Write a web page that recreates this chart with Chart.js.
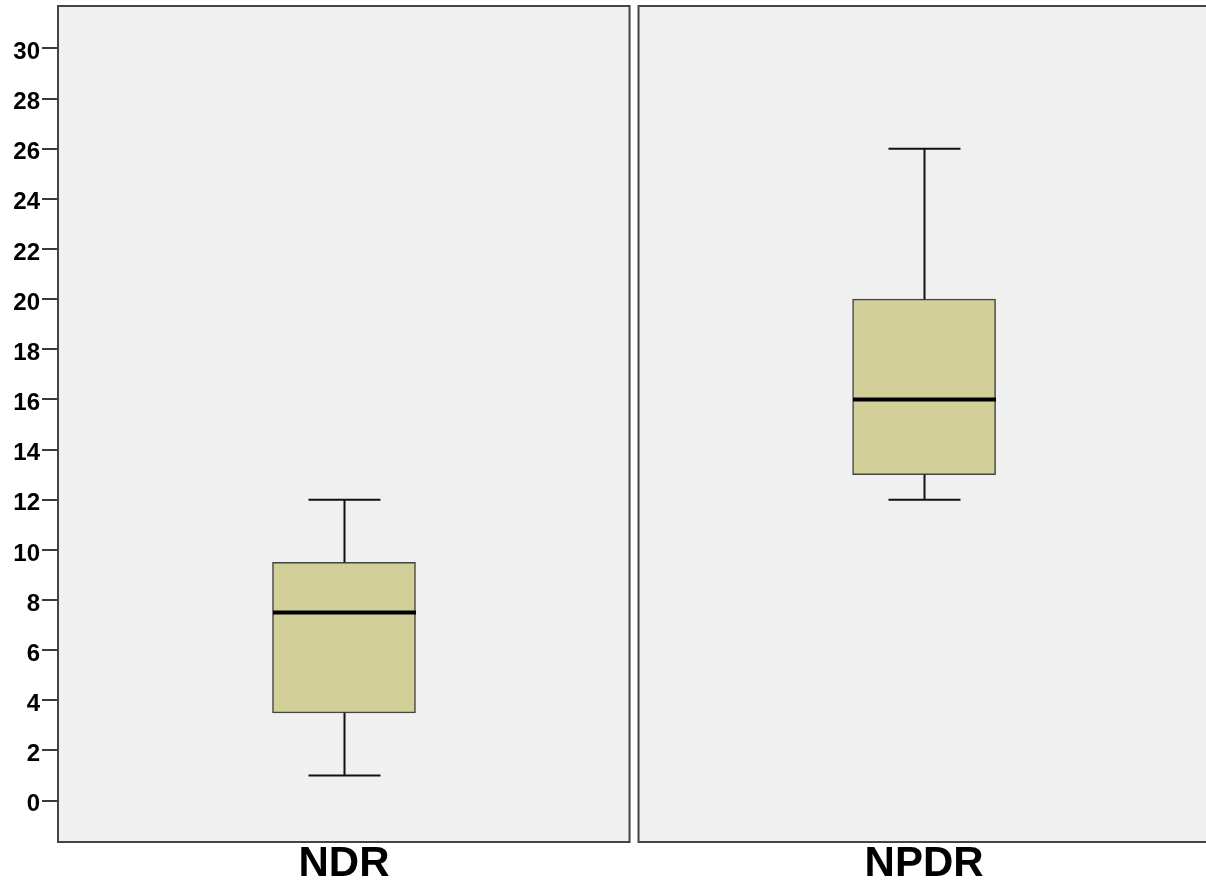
<!DOCTYPE html>
<html>
<head>
<meta charset="utf-8">
<script src="https://cdn.jsdelivr.net/npm/chart.js@4.4.1/dist/chart.umd.min.js"></script>
<style>
  html, body { margin: 0; padding: 0; background: #ffffff; overflow: hidden; }
  #wrap { width: 1206px; height: 883px; position: relative; }
</style>
</head>
<body>
<div id="wrap"><canvas id="c" width="1206" height="883"></canvas></div>
<script>
// Five-number summaries per group
const groups     = ['NDR', 'NPDR'];
const minVals    = [1, 12];
const q1Vals     = [3.5, 13];
const medianVals = [7.5, 16];
const q3Vals     = [9.5, 20];
const maxVals    = [12, 26];
const yTicks     = [0, 2, 4, 6, 8, 10, 12, 14, 16, 18, 20, 22, 24, 26, 28, 30];

const BOX_WIDTH = 143;
const CAP_HALF = 36;
const PANEL_GAP = 4.5;

// Grey framed panel behind each group
const panelPlugin = {
  id: 'panels',
  beforeDatasetsDraw(chart) {
    const { ctx, chartArea: a, scales: { x } } = chart;
    const mid = x.getPixelForValue(0.5);
    const rects = [[a.left, mid - PANEL_GAP], [mid + PANEL_GAP, a.right + 20]];
    ctx.save();
    ctx.fillStyle = '#f0f0f0';
    ctx.strokeStyle = '#444444';
    ctx.lineWidth = 2;
    rects.forEach(([l, r]) => {
      ctx.fillRect(l, a.top, r - l, a.bottom - a.top);
      ctx.strokeRect(l, a.top, r - l, a.bottom - a.top);
    });
    ctx.restore();
  }
};

// Whiskers, caps and median line on top of the boxes
const whiskerPlugin = {
  id: 'whiskers',
  afterDatasetsDraw(chart) {
    const { ctx, scales: { x, y } } = chart;
    ctx.save();
    groups.forEach((g, i) => {
      const cx = Math.round(x.getPixelForValue(i)) + 0.5;
      const yMin = y.getPixelForValue(minVals[i]);
      const yQ1 = y.getPixelForValue(q1Vals[i]);
      const yMed = y.getPixelForValue(medianVals[i]);
      const yQ3 = y.getPixelForValue(q3Vals[i]);
      const yMax = y.getPixelForValue(maxVals[i]);
      ctx.strokeStyle = '#111111';
      ctx.lineWidth = 2;
      ctx.beginPath();
      ctx.moveTo(cx, yQ3); ctx.lineTo(cx, yMax);
      ctx.moveTo(cx - CAP_HALF, yMax); ctx.lineTo(cx + CAP_HALF, yMax);
      ctx.moveTo(cx, yQ1); ctx.lineTo(cx, yMin);
      ctx.moveTo(cx - CAP_HALF, yMin); ctx.lineTo(cx + CAP_HALF, yMin);
      ctx.stroke();
      ctx.strokeStyle = '#000000';
      ctx.lineWidth = 4;
      ctx.beginPath();
      ctx.moveTo(cx - BOX_WIDTH / 2, yMed); ctx.lineTo(cx + BOX_WIDTH / 2, yMed);
      ctx.stroke();
    });
    ctx.restore();
  }
};

new Chart(document.getElementById('c'), {
  type: 'bar',
  data: {
    datasets: [{
      data: groups.map((g, i) => ({ x: i, y: [q1Vals[i], q3Vals[i]] })),
      backgroundColor: '#d3cf98',
      borderColor: '#444444',
      borderWidth: 1.5,
      borderSkipped: false,
      barThickness: BOX_WIDTH
    }]
  },
  options: {
    responsive: false,
    animation: false,
    devicePixelRatio: 1,
    layout: { padding: { top: 6, left: 0, right: 0, bottom: 0 } },
    plugins: { legend: { display: false }, tooltip: { enabled: false } },
    scales: {
      x: {
        type: 'linear',
        offset: false,
        min: -0.493,
        max: 1.486,
        grid: { display: false, offset: false },
        border: { display: false },
        afterBuildTicks(scale) { scale.ticks = groups.map((g, i) => ({ value: i })); },
        afterFit(scale) {
          scale.height = 41;
          scale.paddingLeft = 0; scale.paddingRight = 0;
        },
        ticks: {
          padding: -4,
          color: '#000000',
          font: { family: "'Liberation Sans', Arial, sans-serif", size: 42, weight: 'bold', lineHeight: 0.9 },
          callback: (v) => groups[v] ?? ''
        }
      },
      y: {
        min: -1.65,
        max: 31.69,
        grid: { drawOnChartArea: false, drawTicks: true, tickLength: 16, color: '#3a3a3a', lineWidth: 2 },
        border: { display: false },
        afterBuildTicks(scale) { scale.ticks = yTicks.map(v => ({ value: v })); },
        afterFit(scale) {
          scale.width = 58;
          scale.paddingTop = 0; scale.paddingBottom = 0;
        },
        ticks: {
          padding: 2,
          color: '#000000',
          // an empty first line nudges each label slightly below its tick
          font: { family: "'Liberation Sans', Arial, sans-serif", size: 24, weight: 'bold', lineHeight: '8px' },
          callback: (v) => ['', String(v)]
        }
      }
    }
  },
  plugins: [panelPlugin, whiskerPlugin]
});
</script>
</body>
</html>
